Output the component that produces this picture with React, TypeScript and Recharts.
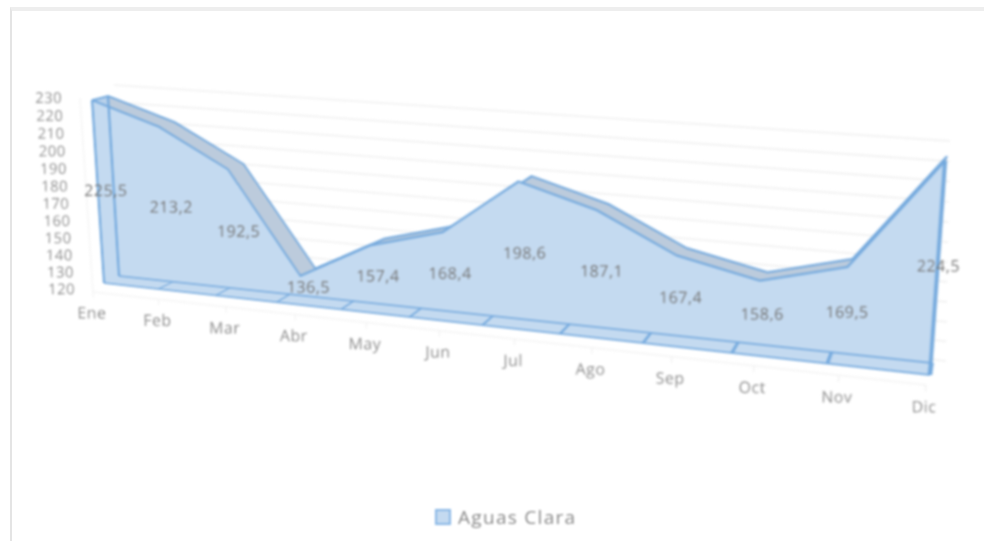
import React from 'react';
import { AreaChart, Area, XAxis, YAxis, CartesianGrid, ReferenceLine, Legend } from 'recharts';

const months = ['Ene', 'Feb', 'Mar', 'Abr', 'May', 'Jun', 'Jul', 'Ago', 'Sep', 'Oct', 'Nov', 'Dic'];
const aguasClara = [225.5, 213.2, 192.5, 136.5, 157.4, 168.4, 198.6, 187.1, 167.4, 158.6, 169.5, 224.5];
const yTicks = [120, 130, 140, 150, 160, 170, 180, 190, 200, 210, 220, 230];
const capSides = ['front', 'back'];

const rows = months.map((month, i) => ({ month, value: aguasClara[i] }));
const capRows = capSides.map(side => ({ side, value: aguasClara[0] }));

const FILL = '#c4daf0';
const LINE = '#72a8dd';
const RIBBON = '#bccbdc';
const FONT = '"Open Sans", sans-serif';

// every chart is drawn flat on this sheet, then warped onto its plane of the 3D box
const W = 1000;
const H = 500;
const MARGIN = { top: 100, left: 100, right: 100, bottom: 200 };
const PLOT_W = W - MARGIN.left - MARGIN.right;
const PLOT_H = H - MARGIN.top - MARGIN.bottom;

type Pt = [number, number];
// corners: top-left, top-right, bottom-right, bottom-left
const FRONT: Pt[] = [[91.5, 92], [946, 149], [930, 375], [104, 283]];
const BACK: Pt[] = [[107.5, 88], [948, 145], [932, 363], [119, 276]];
const MIDDLE: Pt[] = FRONT.map((p, i) => [(p[0] + BACK[i][0]) / 2, (p[1] + BACK[i][1]) / 2]);
const WALL: Pt[] = [[114, 85], [950, 141], [946, 361], [125, 272]];
const AXES: Pt[] = [[80, 98], [941, 160], [926, 385], [93, 292]];
const CAP: Pt[] = [FRONT[0], BACK[0], BACK[3], FRONT[3]];
const FLOOR: Pt[] = [BACK[3], BACK[2], FRONT[2], FRONT[3]];

function homography(q: Pt[]) {
  const [[x0, y0], [x1, y1], [x2, y2], [x3, y3]] = q;
  const dx1 = x1 - x2, dx2 = x3 - x2, sx = x0 - x1 + x2 - x3;
  const dy1 = y1 - y2, dy2 = y3 - y2, sy = y0 - y1 + y2 - y3;
  const den = dx1 * dy2 - dx2 * dy1;
  const g = (sx * dy2 - dx2 * sy) / den;
  const h = (dx1 * sy - sx * dy1) / den;
  const a = x1 - x0 + g * x1, b = x3 - x0 + h * x3;
  const d = y1 - y0 + g * y1, e = y3 - y0 + h * y3;
  // from sheet pixels instead of the unit square
  const su = 1 / PLOT_W, sv = 1 / PLOT_H, tu = -MARGIN.left / PLOT_W, tv = -MARGIN.top / PLOT_H;
  return {
    a: a * su, b: b * sv, c: a * tu + b * tv + x0,
    d: d * su, e: e * sv, f: d * tu + e * tv + y0,
    g: g * su, h: h * sv, i: g * tu + h * tv + 1,
  };
}

function planeStyle(q: Pt[]): React.CSSProperties {
  const m = homography(q);
  return {
    position: 'absolute', left: 0, top: 0, width: W, height: H, transformOrigin: '0 0',
    transform: `matrix3d(${m.a},${m.d},0,${m.g},${m.b},${m.e},0,${m.h},0,0,1,0,${m.c},${m.f},0,${m.i})`,
  };
}

// undoes the warp locally so the text stays upright on screen
function upright(q: Pt[], x: number, y: number) {
  const m = homography(q);
  const map = (u: number, v: number) => {
    const w = m.g * u + m.h * v + m.i;
    return [(m.a * u + m.b * v + m.c) / w, (m.d * u + m.e * v + m.f) / w];
  };
  const p = map(x, y), pu = map(x + 1, y), pv = map(x, y + 1);
  const jxu = pu[0] - p[0], jxv = pv[0] - p[0], jyu = pu[1] - p[1], jyv = pv[1] - p[1];
  const det = jxu * jyv - jxv * jyu;
  return `translate(${x} ${y}) matrix(${jyv / det} ${-jyu / det} ${-jxv / det} ${jxu / det} 0 0)`;
}

const XTick = ({ x, y, payload }: any) => (
  <g transform={upright(AXES, x, y)}>
    <text x={-1.5} y={21} textAnchor="middle" fontFamily={FONT} fontSize={16} letterSpacing={0.5} fill="#8c8c8c">
      {payload.value}
    </text>
  </g>
);

const YTick = ({ x, y, payload }: any) => (
  <g transform={upright(AXES, x, y)}>
    <text x={-18} y={5 - (230 - payload.value) * 0.025} textAnchor="end" fontFamily={FONT} fontSize={15} letterSpacing={0.5} fill="#8c8c8c">
      {payload.value}
    </text>
  </g>
);

const ValueLabel = ({ x, y, index }: any) => {
  const midY = (y + MARGIN.top + PLOT_H) / 2;
  return (
    <g transform={upright(MIDDLE, x, midY)}>
      <text y={6} textAnchor="middle" fontFamily={FONT} fontSize={16} letterSpacing={0.5} fill="#757575">
        {aguasClara[index].toFixed(1).replace('.', ',')}
      </text>
    </g>
  );
};

const LegendContent = ({ payload }: any) => (
  <div style={{ display: 'flex', alignItems: 'center', fontFamily: FONT, fontSize: 19, letterSpacing: 1.3, color: '#8a8a8a' }}>
    <span style={{ width: 12, height: 12, marginRight: 7, background: FILL, border: `2px solid #8ab8e6` }} />
    {payload?.[0]?.value}
  </div>
);

const hiddenAxes = (domain: number[]) => [
  <XAxis key="x" dataKey="month" hide scale="point" padding={{ left: 0, right: 0 }} />,
  <YAxis key="y" hide type="number" domain={domain} allowDataOverflow ticks={yTicks} interval={0} />,
];

const Sheet: React.FC<{ plane: Pt[]; data: any[]; children: React.ReactNode }> = ({ plane, data, children }) => (
  <div style={planeStyle(plane)}>
    <AreaChart width={W} height={H} data={data} margin={MARGIN}>
      {children}
    </AreaChart>
  </div>
);

export default function App() {
  return (
    <div style={{ position: 'absolute', left: 0, top: 0, width: 984, height: 541, overflow: 'hidden', background: '#fff' }}>
      <div style={{ position: 'absolute', left: 10, top: 7, width: 974, height: 534, borderTop: '4px solid #eeeeee', borderLeft: '2px solid #e4e4e4' }} />

      <div style={{ position: 'absolute', left: 0, top: 0, width: 984, height: 541, filter: 'blur(1px)' }}>
        {/* back wall gridlines */}
        <Sheet plane={WALL} data={rows}>
          {hiddenAxes([120, 230])}
          <CartesianGrid vertical={false} stroke="#f0f0f0" strokeWidth={1.5} />
        </Sheet>

        {/* faint axis lines and the tick labels */}
        <div style={planeStyle(AXES)}>
          <AreaChart width={W} height={H} data={rows} margin={{ top: 100, left: 99, right: 100, bottom: 199 }}>
            <XAxis dataKey="month" scale="point" padding={{ left: 0, right: 0 }} height={1} interval={0}
              axisLine={{ stroke: '#efefef' }} tickLine={{ stroke: '#efefef' }} tickSize={6} tickMargin={0} tick={XTick} />
            <YAxis type="number" domain={[120, 230]} allowDataOverflow ticks={yTicks} width={1} interval={0}
              axisLine={{ stroke: '#efefef' }} tickLine={false} tickSize={0} tickMargin={0} tick={YTick} />
            <Area dataKey="value" fill="none" stroke="none" dot={false} activeDot={false} isAnimationActive={false} />
          </AreaChart>
        </div>

        {/* back of the ridge, only its top face stays visible */}
        <Sheet plane={BACK} data={rows}>
          {hiddenAxes([120, 230])}
          <Area dataKey="value" type="linear" fill={RIBBON} fillOpacity={1} stroke={LINE} strokeWidth={2} dot={false} activeDot={false} isAnimationActive={false} />
        </Sheet>

        {/* left end of the box */}
        <div style={planeStyle(CAP)}>
          <AreaChart width={W} height={H} data={capRows} margin={MARGIN}>
            <XAxis dataKey="side" hide scale="point" padding={{ left: 0, right: 0 }} />
            <YAxis hide type="number" domain={[120, 230]} allowDataOverflow />
            <Area dataKey="value" type="linear" fill="#b9d1ea" fillOpacity={1} stroke={LINE} strokeWidth={2} dot={false} activeDot={false} isAnimationActive={false} />
          </AreaChart>
        </div>

        {/* front face */}
        <Sheet plane={FRONT} data={rows}>
          {hiddenAxes([120, 230])}
          <Area dataKey="value" type="linear" fill={FILL} fillOpacity={1} stroke={LINE} strokeWidth={2} dot={false} activeDot={false} isAnimationActive={false} />
          <ReferenceLine segment={[{ x: 'Ene', y: 120 }, { x: 'Ene', y: aguasClara[0] }]} stroke={LINE} strokeWidth={2.5} ifOverflow="visible" />
          <ReferenceLine segment={[{ x: 'Dic', y: 120 }, { x: 'Dic', y: aguasClara[11] }]} stroke={LINE} strokeWidth={3} ifOverflow="visible" />
          <ReferenceLine y={120} stroke={LINE} strokeWidth={2} strokeOpacity={0.8} />
        </Sheet>

        {/* back edges that show through the front */}
        <Sheet plane={BACK} data={rows}>
          {hiddenAxes([120, 230])}
          <Area dataKey="value" type="linear" fill="none" stroke="none" dot={false} activeDot={false} isAnimationActive={false} />
          <ReferenceLine segment={[{ x: 'Ene', y: 120 }, { x: 'Ene', y: aguasClara[0] }]} stroke={LINE} strokeWidth={2.5} ifOverflow="visible" />
          <ReferenceLine y={120} stroke={LINE} strokeWidth={2} strokeOpacity={0.8} />
        </Sheet>

        {/* category dividers across the floor strip */}
        <Sheet plane={FLOOR} data={rows}>
          <XAxis dataKey="month" hide scale="point" padding={{ left: 0, right: 0 }} />
          <YAxis hide type="number" domain={[0, 1]} allowDataOverflow />
          {months.map(month => (
            <ReferenceLine key={month} x={month} stroke={LINE} strokeWidth={2.5} />
          ))}
        </Sheet>

        {/* data labels sit half way up, half way into the box */}
        <Sheet plane={MIDDLE} data={rows}>
          {hiddenAxes([120, 230])}
          <Area dataKey="value" type="linear" fill="none" stroke="none" dot={false} activeDot={false} label={ValueLabel} isAnimationActive={false} />
        </Sheet>

        {/* legend, not warped */}
        <div style={{ position: 'absolute', left: 0, top: 0 }}>
          <AreaChart width={984} height={541} data={rows} margin={{ top: 0, left: 0, right: 0, bottom: 0 }}>
            {hiddenAxes([120, 230])}
            <Area dataKey="value" name="Aguas Clara" fill="none" stroke="none" dot={false} activeDot={false} isAnimationActive={false} />
            <Legend content={LegendContent} wrapperStyle={{ position: 'absolute', left: 435, top: 504, width: 160, bottom: 'auto' }} />
          </AreaChart>
        </div>
      </div>
    </div>
  );
}
